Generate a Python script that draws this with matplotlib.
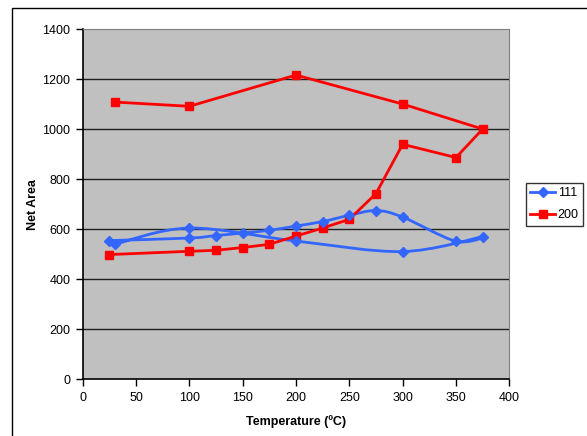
import matplotlib.pyplot as plt
import numpy as np
from matplotlib.path import Path
from matplotlib.patches import PathPatch, Rectangle

plt.rcParams['font.family'] = ['Liberation Sans', 'DejaVu Sans']

# series "111" (smoothed line in the original)
temp_111 = [25, 100, 125, 150, 175, 200, 225, 250, 275, 300, 350, 375, 300, 200, 100, 30]
area_111 = [555, 565, 575, 585, 596, 613, 631, 656, 675, 649, 552, 571, 511, 553, 605, 540]

# series "200"
temp_200 = [25, 100, 125, 150, 175, 200, 225, 250, 275, 300, 350, 375, 300, 200, 100, 30]
area_200 = [499, 512, 516, 527, 540, 573, 605, 640, 743, 940, 887, 1001, 1101, 1217, 1092, 1109]

x_ticks = [0, 50, 100, 150, 200, 250, 300, 350, 400]
y_ticks = [0, 200, 400, 600, 800, 1000, 1200, 1400]

blue = '#3366ff'
red = '#ff0000'


def smooth_path(xs, ys):
	# bezier through the points, like the spreadsheet "smoothed line"
	pts = np.column_stack([xs, ys]).astype(float)
	n = len(pts)
	verts = [pts[0]]
	codes = [Path.MOVETO]
	for i in range(n - 1):
		p0 = pts[max(i - 1, 0)]
		p1 = pts[i]
		p2 = pts[i + 1]
		p3 = pts[min(i + 2, n - 1)]
		verts += [p1 + (p2 - p0) / 6, p2 - (p3 - p1) / 6, p2]
		codes += [Path.CURVE4] * 3
	return Path(verts, codes)


W, H = 587, 436
fig = plt.figure(figsize=(W / 100, H / 100), dpi=100)
ax = fig.add_axes([82.7 / W, 1 - 379.3 / H, (509.3 - 82.7) / W, (379.3 - 29.3) / H])
ax.set_facecolor('#c0c0c0')

# outer chart border (only left and top are visible)
fig.patches.append(Rectangle((12 / W, -0.1), 1.2, 1 - 8 / H + 0.1, transform=fig.transFigure,
							 fill=False, edgecolor='black', linewidth=1))

for y in y_ticks[1:-1]:
	ax.axhline(y, color='#202020', linewidth=1, zorder=1)

ax.add_patch(PathPatch(smooth_path(temp_111, area_111), fill=False, edgecolor=blue,
					   linewidth=2, zorder=3))
ax.plot(temp_111, area_111, linestyle='none', marker='D', markersize=5,
		color=blue, zorder=4)
ax.plot([], [], color=blue, marker='D', markersize=5, linewidth=2, label='111')

ax.plot(temp_200, area_200, color=red, marker='s', markersize=5.5,
		linewidth=2, zorder=3, label='200')

ax.set_xlim(0, 400)
ax.set_ylim(0, 1400)
ax.set_xticks(x_ticks)
ax.set_yticks(y_ticks)
ax.tick_params(direction='out', length=5, width=1, labelsize=9, colors='black', pad=4)

for s in ['top', 'right']:
	ax.spines[s].set_color('#808080')
for s in ['left', 'bottom']:
	ax.spines[s].set_color('black')
	ax.spines[s].set_linewidth(1.2)

ax.set_xlabel('Temperature (ºC)', fontsize=9, fontweight='bold', labelpad=8)
ax.set_ylabel('Net Area', fontsize=9, fontweight='bold', labelpad=2)

leg = fig.legend(loc='upper right', bbox_to_anchor=(583 / W, 1 - 183 / H), fontsize=9,
				 frameon=True, fancybox=False, edgecolor='black', handlelength=2.0,
				 borderpad=0.35, labelspacing=0.8, handletextpad=0.2, borderaxespad=0)
leg.get_frame().set_linewidth(1)

fig.savefig('out.png', dpi=100)
